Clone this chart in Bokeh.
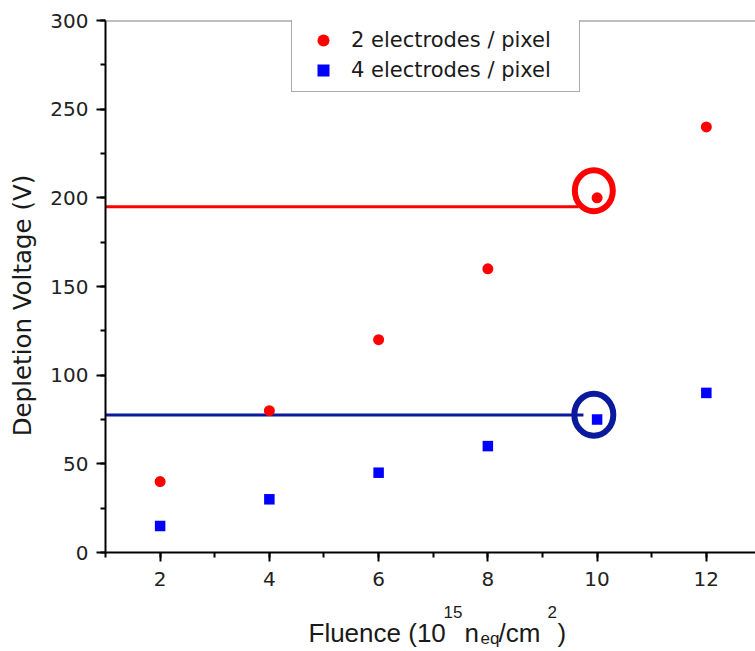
import math
from bokeh.plotting import figure
from bokeh.layouts import column, row
from bokeh.models import Span, SingleIntervalTicker, Range1d
from bokeh.core.properties import value
from bokeh.embed import file_html
from bokeh.resources import INLINE

# ---- data ----
fluence = [2, 4, 6, 8, 10, 12]
v_2el = [40, 80, 120, 160, 200, 240]
v_4el = [15, 30, 45, 60, 75, 90]
series_labels = ["2 electrodes / pixel", "4 electrodes / pixel"]

# reference lines (depletion level) and highlight circles
ref_levels = [195, 77.5]
ref_x_start = [0.95, 0.95]
ref_x_end = [9.66, 9.75]
hl_x = [9.94, 9.94]
hl_y = [204, 77.7]

y_label = "Depletion Voltage (V)"
x_label_parts = ["Fluence (10", "15", "n", "eq", "/cm", "2", ")"]

RED = "#ff0000"
BLUE = "#0000ff"
NAVY = "#0b1a9c"
TXT = "#1a1a1a"
TICK_FONT = "DejaVu Sans"

# ---------------- main plot ----------------
p = figure(width=715, height=600, x_range=Range1d(1, 12.9), y_range=Range1d(0, 300),
           output_backend="svg", toolbar_location=None, title=None,
           min_border_left=65, min_border_right=0, min_border_top=20, min_border_bottom=48)
p.outline_line_color = None
p.xgrid.visible = False
p.ygrid.visible = False

p.xaxis.ticker = SingleIntervalTicker(interval=2, num_minor_ticks=2)
p.yaxis.ticker = SingleIntervalTicker(interval=50, num_minor_ticks=2)
for ax in (p.xaxis, p.yaxis):
    ax.axis_line_color = "black"
    ax.axis_line_width = 2
    ax.major_tick_line_color = "black"
    ax.minor_tick_line_color = "black"
    ax.major_tick_line_width = 2
    ax.minor_tick_line_width = 2
    ax.major_tick_out = 9
    ax.major_tick_in = 0
    ax.minor_tick_out = 5
    ax.minor_tick_in = 0
    ax.major_label_text_font = TICK_FONT
    ax.major_label_text_font_size = "20px"
    ax.major_label_text_color = "#222222"
p.yaxis.major_label_standoff = 8
p.xaxis.major_label_standoff = 10

p.add_layout(Span(location=300, dimension="width", line_color="#7f7f7f", line_width=2))

# horizontal reference lines
p.segment(x0=[ref_x_start[0]], y0=[ref_levels[0]], x1=[ref_x_end[0]], y1=[ref_levels[0]],
          line_color=RED, line_width=3)
p.segment(x0=[ref_x_start[1]], y0=[ref_levels[1]], x1=[ref_x_end[1]], y1=[ref_levels[1]],
          line_color=NAVY, line_width=3)

# highlight ellipses
p.ellipse(x=[hl_x[0]], y=[hl_y[0]], width=38, height=41, width_units="screen",
          height_units="screen", fill_color=None, line_color=RED, line_width=6)
p.ellipse(x=[hl_x[1]], y=[hl_y[1]], width=39, height=42, width_units="screen",
          height_units="screen", fill_color=None, line_color=NAVY, line_width=6)

p.scatter(fluence, v_2el, marker="circle", size=11, fill_color=RED, line_color=None,
          legend_label=series_labels[0])
p.scatter(fluence, v_4el, marker="square", size=10.5, fill_color=BLUE, line_color=None,
          legend_label=series_labels[1])

lg = p.legend[0]
lg.location = (186, 460)
lg.margin = 0
lg.padding = 6
lg.spacing = 0
lg.glyph_width = 50
lg.glyph_height = 30
lg.label_height = 30
lg.label_standoff = 3
lg.label_width = 222
lg.label_text_font = TICK_FONT
lg.label_text_font_size = "21px"
lg.label_text_color = TXT
lg.border_line_color = "#555555"
lg.border_line_width = 1.5
lg.background_fill_color = "white"
lg.background_fill_alpha = 1.0

# ---------------- y axis title strip ----------------
yl = figure(width=40, height=600, x_range=Range1d(0, 40), y_range=Range1d(600, 0),
            x_axis_type=None, y_axis_type=None, output_backend="svg",
            toolbar_location=None, title=None, min_border=0)
yl.outline_line_color = None
yl.text(x=[21.5], y=[469], text=[y_label], angle=math.pi / 2,
        text_align="left", text_baseline="middle",
        text_font=value(TICK_FONT), text_font_size=value("24.5px"), text_color=TXT)

# ---------------- x axis title strip ----------------
xl = figure(width=755, height=51, x_range=Range1d(0, 755), y_range=Range1d(651, 600),
            x_axis_type=None, y_axis_type=None, output_backend="svg",
            toolbar_location=None, title=None, min_border=0)
xl.outline_line_color = None
xl_pos = [(308, 632, "26px"), (443, 611, "17px"), (464, 632, "26px"), (480, 638, "17px"),
          (498, 632, "26px"), (547, 611, "17px"), (557, 632, "26px")]
for txt, (px, py, fs) in zip(x_label_parts, xl_pos):
    xl.text(x=[px], y=[py], text=[txt], text_align="left", text_baseline="alphabetic",
            text_font=value("Liberation Sans"), text_font_size=value(fs), text_color=TXT)

layout = column(row(yl, p, spacing=0), xl, spacing=0)
open("out.html", "w").write(file_html(layout, INLINE))
